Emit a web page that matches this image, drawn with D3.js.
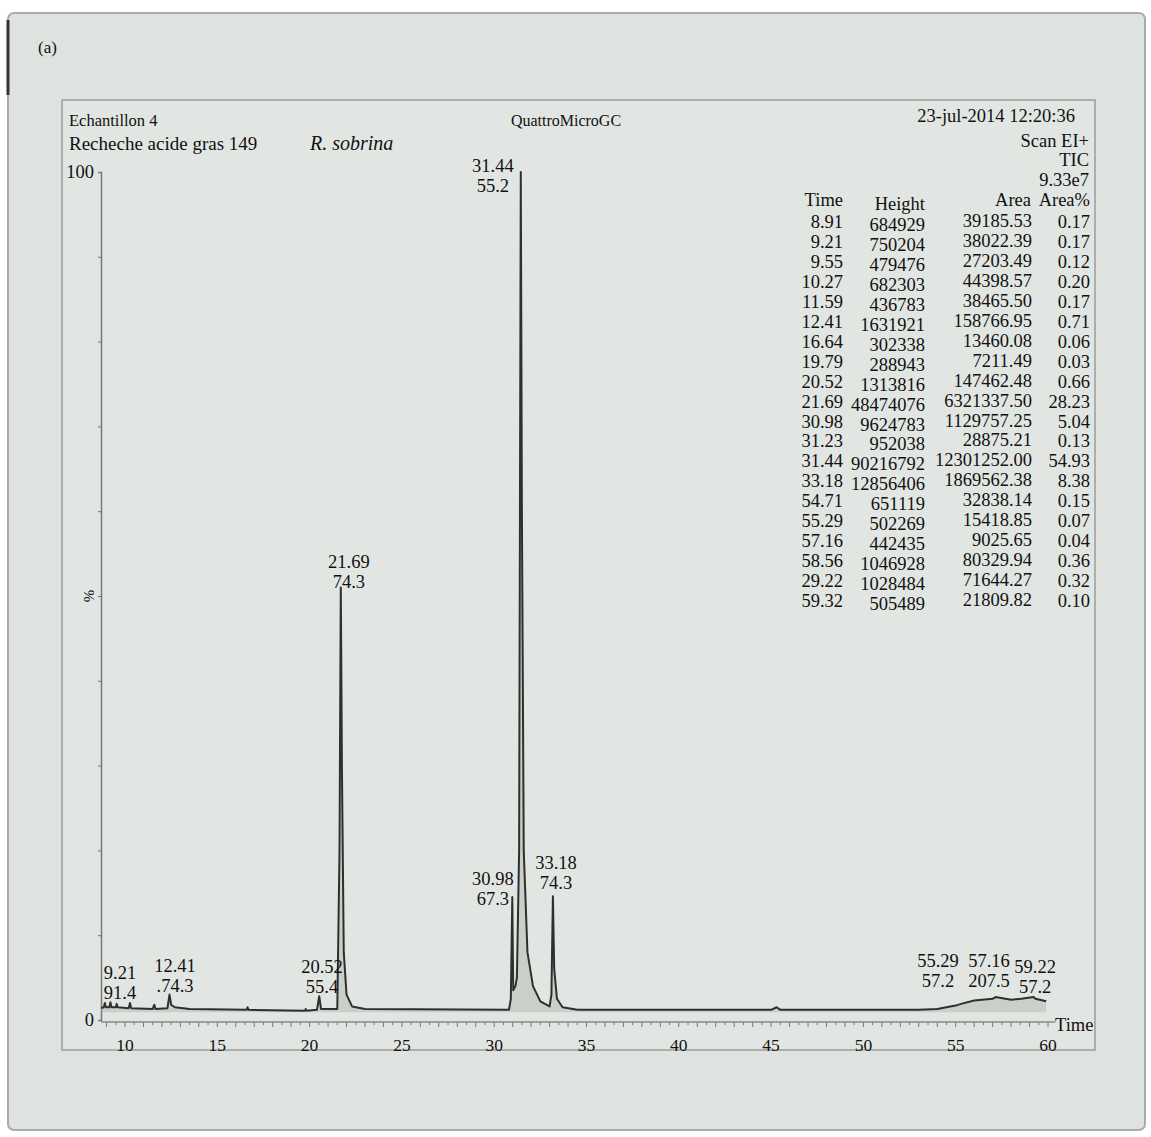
<!DOCTYPE html>
<html><head><meta charset="utf-8">
<script src="https://cdn.jsdelivr.net/npm/d3@7"></script>
<style>
html,body{margin:0;padding:0;background:#fff;}
text{font-family:"Liberation Serif","Times New Roman",serif;fill:#111;}
</style></head>
<body>
<svg id="c" width="1151" height="1137"></svg>
<script>
// ---- data ----
const traceTime = [8.7,8.85,8.91,8.97,9.15,9.21,9.27,9.5,9.55,9.6,10.2,10.27,10.33,11.5,11.59,11.65,12.3,12.41,12.5,12.7,13.5,16.6,16.64,16.7,19.75,19.79,19.85,20.4,20.52,20.62,21.5,21.62,21.69,21.75,21.85,22.0,22.3,23,30.8,30.9,30.98,31.03,31.15,31.23,31.35,31.44,31.5,31.6,31.8,32.1,32.5,33.0,33.1,33.18,33.25,33.4,33.7,34.5,45,45.3,45.5,53,54,54.71,55.0,55.29,56,57,57.16,58,58.56,59.22,59.32,59.9];
const tracePct  = [1.4,1.5,2.0,1.5,1.5,2.1,1.5,1.5,1.9,1.5,1.4,2.0,1.4,1.3,1.8,1.3,1.4,3.0,1.8,1.5,1.3,1.2,1.5,1.2,1.1,1.3,1.1,1.2,2.8,1.3,1.3,20,51,30,8,3,1.6,1.3,1.2,2.5,14.5,3.5,4,5,20,100,60,20,8,4,2.2,1.6,3,14.6,6,2.5,1.5,1.2,1.2,1.5,1.2,1.2,1.3,1.6,1.7,1.9,2.3,2.5,2.7,2.4,2.5,2.7,2.5,2.2];

const peakTimes  = ["31.44","21.69","30.98","33.18","9.21","12.41","20.52","55.29","57.16","59.22"];
const peakMasses = ["55.2","74.3","67.3","74.3","91.4",".74.3","55.4","57.2","207.5","57.2"];
const peakLabelT = [29.93,22.13,29.93,33.35,9.73,12.71,20.67,54.04,56.8,59.3];
const peakLabelP = [97.6,50.9,13.56,15.45,2.48,3.3,3.18,3.89,3.89,3.18];

const tblTime   = ["8.91","9.21","9.55","10.27","11.59","12.41","16.64","19.79","20.52","21.69","30.98","31.23","31.44","33.18","54.71","55.29","57.16","58.56","29.22","59.32"];
const tblHeight = ["684929","750204","479476","682303","436783","1631921","302338","288943","1313816","48474076","9624783","952038","90216792","12856406","651119","502269","442435","1046928","1028484","505489"];
const tblArea   = ["39185.53","38022.39","27203.49","44398.57","38465.50","158766.95","13460.08","7211.49","147462.48","6321337.50","1129757.25","28875.21","12301252.00","1869562.38","32838.14","15418.85","9025.65","80329.94","71644.27","21809.82"];
const tblPct    = ["0.17","0.17","0.12","0.20","0.17","0.71","0.06","0.03","0.66","28.23","5.04","0.13","54.93","8.38","0.15","0.07","0.04","0.36","0.32","0.10"];

const xTicks = [10,15,20,25,30,35,40,45,50,55,60];

// ---- drawing ----
const svg = d3.select("#c");
svg.append("rect").attr("x",8).attr("y",13).attr("width",1137).attr("height",1117)
  .attr("rx",6).attr("fill","#dfe3df").attr("stroke","#a9aca9").attr("stroke-width",2);
svg.append("line").attr("x1",8).attr("x2",8).attr("y1",20).attr("y2",95).attr("stroke","#333").attr("stroke-width",3);
svg.append("rect").attr("x",62).attr("y",100).attr("width",1033).attr("height",950)
  .attr("fill","#e2e6e2").attr("stroke","#9a9d9a").attr("stroke-width",1.5);

const x = d3.scaleLinear().domain([8.7,60.4]).range([101,1055.4]);
const y = d3.scaleLinear().domain([0,100]).range([1020,172]);

const fs=18.5;
svg.append("text").attr("x",38).attr("y",53).attr("font-size",17).text("(a)");
svg.append("text").attr("x",69).attr("y",126).attr("font-size",16.5).text("Echantillon 4");
svg.append("text").attr("x",69).attr("y",150).attr("font-size",19).text("Recheche acide gras 149");
svg.append("text").attr("x",310).attr("y",150).attr("font-size",20).attr("font-style","italic").text("R. sobrina");
svg.append("text").attr("x",566).attr("y",126).attr("font-size",16).attr("text-anchor","middle").text("QuattroMicroGC");
const rt=[["23-jul-2014 12:20:36",122,1075],["Scan EI+",147,1089],["TIC",166,1089],["9.33e7",186,1089]];
rt.forEach(r=>svg.append("text").attr("x",r[2]).attr("y",r[1]).attr("font-size",fs).attr("text-anchor","end").text(r[0]));

// table
const tbl = svg.append("g");
tbl.append("text").attr("x",843).attr("y",206).attr("font-size",fs).attr("text-anchor","end").text("Time");
tbl.append("text").attr("x",925).attr("y",210).attr("font-size",fs).attr("text-anchor","end").text("Height");
tbl.append("text").attr("x",1031).attr("y",206).attr("font-size",fs).attr("text-anchor","end").text("Area");
tbl.append("text").attr("x",1090).attr("y",206).attr("font-size",fs).attr("text-anchor","end").text("Area%");
const rowY = i => 228 + i*19.95;
tbl.selectAll(".t").data(tblTime).join("text").attr("x",843).attr("y",(d,i)=>rowY(i)).attr("font-size",fs).attr("text-anchor","end").text(d=>d);
tbl.selectAll(".h").data(tblHeight).join("text").attr("x",925).attr("y",(d,i)=>rowY(i)+3).attr("font-size",fs).attr("text-anchor","end").text(d=>d);
tbl.selectAll(".a").data(tblArea).join("text").attr("x",1032).attr("y",(d,i)=>rowY(i)-1).attr("font-size",fs).attr("text-anchor","end").text(d=>d);
tbl.selectAll(".p").data(tblPct).join("text").attr("x",1090).attr("y",(d,i)=>rowY(i)).attr("font-size",fs).attr("text-anchor","end").text(d=>d);

// y axis
const yAxis = d3.axisLeft(y).tickValues(d3.range(0,101,10)).tickSize(3).tickFormat(d=> (d===0||d===100)? d : "");
const gy = svg.append("g").attr("transform","translate(101,0)").call(yAxis);
gy.select(".domain").attr("stroke","#777").attr("stroke-width",1.5);
gy.selectAll(".tick line").attr("stroke","#777");
gy.selectAll(".tick text").attr("font-size",fs).attr("font-family","Liberation Serif").attr("fill","#111").attr("dx",-1);
svg.append("text").attr("transform",`translate(94,596) rotate(-90)`).attr("font-size",15).attr("text-anchor","middle").text("%");

// x axis
const axY = 1022;
const gx = svg.append("g").attr("transform",`translate(0,${axY})`);
const minor = d3.range(9,60.01,0.5);
gx.selectAll(".mt").data(minor).join("line").attr("x1",d=>x(d)).attr("x2",d=>x(d)).attr("y1",0)
  .attr("y2",d=> Number.isInteger(d)? 5:3).attr("stroke","#777").attr("stroke-width",1);
gx.append("line").attr("x1",x(8.7)).attr("x2",x(60.4)).attr("y1",0).attr("y2",0).attr("stroke","#888").attr("stroke-width",1.5);
gx.selectAll(".xl").data(xTicks).join("text").attr("x",d=>x(d)).attr("y",29).attr("font-size",17.5).attr("text-anchor","middle").text(d=>d);
svg.append("text").attr("x",1055).attr("y",1031).attr("font-size",fs).text("Time");

// trace
const pts = traceTime.map((t,i)=>[t,tracePct[i]]);
const area = d3.area().x(d=>x(d[0])).y0(y(0.9)).y1(d=>y(d[1]));
svg.append("path").datum(pts).attr("d",area).attr("fill","#a8aca8").attr("opacity",0.4);
const line = d3.line().x(d=>x(d[0])).y(d=>y(d[1]));
svg.append("path").datum(pts).attr("d",line).attr("fill","none").attr("stroke","#2e302e").attr("stroke-width",2).attr("stroke-linejoin","round");

// peak labels
const pl = svg.append("g");
peakTimes.forEach((t,i)=>{
  const px=x(peakLabelT[i]), py=y(peakLabelP[i]);
  pl.append("text").attr("x",px).attr("y",py-20).attr("font-size",fs).attr("text-anchor","middle").text(t);
  pl.append("text").attr("x",px).attr("y",py).attr("font-size",fs).attr("text-anchor","middle").text(peakMasses[i]);
});
</script>
</body></html>
